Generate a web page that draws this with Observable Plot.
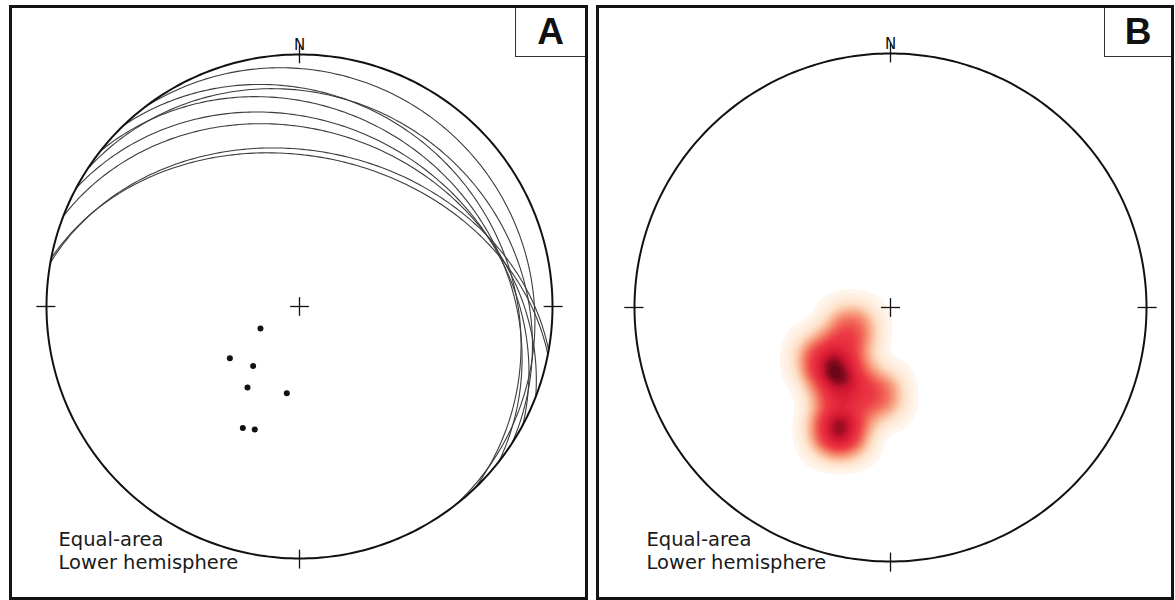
<!DOCTYPE html>
<html><head><meta charset="utf-8">
<script src="https://cdn.jsdelivr.net/npm/d3@7"></script>
<script src="https://cdn.jsdelivr.net/npm/@observablehq/plot@0.6"></script>
<style>
body{margin:0;background:#fff;width:1175px;height:600px;position:relative;overflow:hidden;font-family:"DejaVu Sans",sans-serif;}
.panel{position:absolute;box-sizing:border-box;border:3px solid #141414;background:#fff;}
.panel svg{position:absolute;left:0;top:0;}
.tag{position:absolute;top:0;right:0;box-sizing:border-box;border-left:1.5px solid #333;border-bottom:1.5px solid #333;font-family:"Liberation Sans",Arial,sans-serif;font-weight:bold;font-size:37px;display:flex;align-items:center;justify-content:center;background:#fff;color:#111;}
</style></head><body>
<div id="A" class="panel" style="left:9px;top:5px;width:579px;height:595px"></div>
<div id="B" class="panel" style="left:596px;top:5px;width:578px;height:595px"></div>
<script>
// ---- data ----
const planeDipDirection = [52, 46, 38, 33, 28, 21, 10, 11];
const planeDip          = [10, 20, 24, 18, 28, 31, 38, 40];
const poleTrend   = [240.5, 233.3, 217.8, 212.6, 188.3, 204.9, 199.9];
const polePlunge  = [75.6, 61.9, 65.6, 58.7, 61.5, 45.8, 46.9];
const cardinalAzimuths = [0, 90, 180, 270];
const northLabel = "N";
const netLabel = ["Equal-area", "Lower hemisphere"];
const panelTags = ["A", "B"];
const densityColors = ["#fffaf4", "#fde0c8", "#f8a888", "#f26a5a", "#ec3a44", "#e3263b", "#c8142e", "#6a0618"];

// ---- equal-area lower-hemisphere projection ----
const rad = Math.PI / 180;
function project(trend, plunge) {
  const r = Math.SQRT2 * Math.sin((90 - plunge) / 2 * rad);
  return [r * Math.sin(trend * rad), r * Math.cos(trend * rad)];
}
function greatCircle(dd, dip, id, span = 180) {
  const s = [Math.sin((dd - 90) * rad), Math.cos((dd - 90) * rad), 0];
  const d = [Math.sin(dd * rad) * Math.cos(dip * rad), Math.cos(dd * rad) * Math.cos(dip * rad), Math.sin(dip * rad)];
  const pts = [];
  for (let a = 0; a <= span; a += 1) {
    const c = Math.cos(a * rad), sn = Math.sin(a * rad);
    const v = [c * s[0] + sn * d[0], c * s[1] + sn * d[1], Math.max(0, c * s[2] + sn * d[2])];
    const plunge = Math.asin(Math.min(1, v[2])) / rad;
    const trend = Math.atan2(v[0], v[1]) / rad;
    const [x, y] = project(trend, plunge);
    pts.push({id, x, y});
  }
  return pts;
}
const planes = planeDip.flatMap((dip, i) => greatCircle(planeDipDirection[i], dip, i));
const primitive = greatCircle(0, 0, "p", 360);
const poles = poleTrend.map((t, i) => { const [x, y] = project(t, polePlunge[i]); return {x, y}; });
const ticks = cardinalAzimuths.map(a => ({
  x1: 0.965 * Math.sin(a * rad), y1: 0.965 * Math.cos(a * rad),
  x2: 1.04 * Math.sin(a * rad), y2: 1.04 * Math.cos(a * rad)
}));
const cc = 0.037;
const centerCross = [{x1: -cc, y1: 0, x2: cc, y2: 0}, {x1: 0, y1: -cc, x2: 0, y2: cc}];
const north = [{label: northLabel, x: 0, y: 1}];

function frameMarks(labelDy) {
  return [
    Plot.line(primitive, {x: "x", y: "y", stroke: "#111", strokeWidth: 2}),
    Plot.link(ticks, {x1: "x1", y1: "y1", x2: "x2", y2: "y2", stroke: "#111", strokeWidth: 1.3}),
    Plot.link(centerCross, {x1: "x1", y1: "y1", x2: "x2", y2: "y2", stroke: "#111", strokeWidth: 1.3}),
    Plot.text(north, {x: "x", y: "y", text: "label", lineAnchor: "bottom", dy: -5, fontSize: 15, fill: "#111", fontFamily: "DejaVu Sans"}),
    Plot.text([netLabel.join("\n")], {frameAnchor: "bottom-left", textAnchor: "start", lineAnchor: "bottom", dx: 12, dy: labelDy, fontSize: 19.5, lineHeight: 1.18, fill: "#1a1a1a", fontFamily: "DejaVu Sans"})
  ];
}

const W = 573, H = 589;
const plotA = Plot.plot({
  width: W, height: H,
  marginLeft: 34, marginRight: 33, marginTop: 46, marginBottom: 39,
  x: {domain: [-1, 1], axis: null}, y: {domain: [-1, 1], axis: null},
  marks: [
    Plot.line(planes, {x: "x", y: "y", z: "id", stroke: "#3c3c3c", strokeWidth: 1.1}),
    ...frameMarks(10),
    Plot.dot(poles, {x: "x", y: "y", r: 3, fill: "#111", stroke: "none"})
  ]
});
const plotB = Plot.plot({
  width: 572, height: H,
  marginLeft: 35, marginRight: 25, marginTop: 45, marginBottom: 36,
  x: {domain: [-1, 1], axis: null}, y: {domain: [-1, 1], axis: null},
  color: {type: "linear", interpolate: d3.piecewise(d3.interpolateRgb, densityColors)},
  marks: [
    Plot.density(poles, {x: "x", y: "y", bandwidth: 15, thresholds: 40, fill: "density", stroke: "none"}),
    ...frameMarks(7)
  ]
});
const pa = document.getElementById("A"), pb = document.getElementById("B");
pa.appendChild(plotA); pb.appendChild(plotB);
[[pa, 70], [pb, 67]].forEach(([p, w], i) => {
  const t = document.createElement("div");
  t.className = "tag"; t.style.width = w + "px"; t.style.height = "49px";
  t.textContent = panelTags[i];
  p.appendChild(t);
});
</script>
</body></html>
